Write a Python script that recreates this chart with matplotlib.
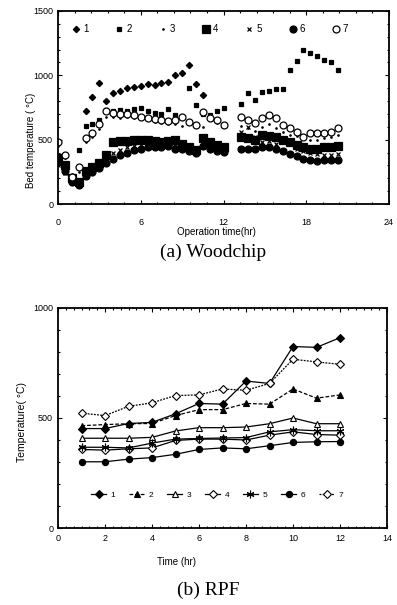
import numpy as np
import matplotlib
matplotlib.use("Agg")
import matplotlib.pyplot as plt
from matplotlib.ticker import MultipleLocator, AutoMinorLocator

plt.rcParams['font.family'] = ['Liberation Sans', 'DejaVu Sans']

nan = np.nan

# (a) woodchip - two runs of readings (hr)
t_a = [0, 0.5, 1, 1.5, 2, 2.5, 3, 3.5, 4, 4.5, 5, 5.5, 6, 6.5, 7, 7.5, 8,
       8.5, 9, 9.5, 10, 10.5, 11, 11.5, 12]
t_b = [13.3, 13.8, 14.3, 14.8, 15.3, 15.8, 16.3, 16.8, 17.3, 17.8, 18.3,
       18.8, 19.3, 19.8, 20.3]

s1_a = [nan, nan, nan, nan, 720, 830, 940, 800, 860, 880, 900, 910, 920, 930,
        925, 940, 950, 1000, 1020, 1080, 930, 850, nan, nan, nan]
s1_b = [nan] * 15
s2_a = [nan, nan, nan, 420, 610, 620, 650, 730, 720, 730, 720, 740, 745, 720,
        710, 700, 740, 690, 680, 900, 770, 700, 690, 720, 750]
s2_b = [780, 860, 810, 870, 880, 890, 890, 1040, 1110, 1200, 1170, 1150, 1120,
        1100, 1045]
s3_a = [450, 360, 230, 250, 480, 520, 580, 680, 680, 670, 680, 670, 660, 660,
        640, 630, 620, 620, 610, 640, 620, 600, 670, 630, 600]
s3_b = [610, 590, 570, 600, 620, 590, 560, 540, 530, 510, 500, 500, 510, 520,
        540]
s4_a = [360, 300, 200, 170, 260, 290, 320, 380, 480, 490, 490, 495, 500, 495,
        490, 480, 490, 500, 470, 445, 420, 510, 480, 460, 440]
s4_b = [520, 510, 500, 540, 530, 520, 500, 480, 460, 440, 430, 430, 440, 445,
        450]
s5_a = [300, 240, 160, 160, 240, 270, 300, 340, 400, 420, 440, 450, 460, 460,
        470, 460, 460, 450, 440, 430, 410, 480, 460, 440, 430]
s5_b = [560, 600, 520, 480, 490, 470, 480, 470, 430, 410, 400, 390, 380, 380,
        390]
s6_a = [330, 260, 170, 150, 220, 250, 280, 320, 350, 380, 400, 420, 430, 440,
        445, 440, 450, 430, 425, 415, 400, 450, 430, 415, 405]
s6_b = [430, 430, 425, 440, 445, 430, 410, 390, 370, 350, 340, 335, 340, 345,
        340]
s7_a = [480, 380, 212, 290, 510, 555, 620, 725, 710, 700, 700, 690, 680, 670,
        660, 650, 645, 650, 680, 640, 614, 717, 666, 653, 614]
s7_b = [678, 653, 627, 666, 692, 666, 614, 588, 562, 523, 549, 549, 549, 560,
        588]

# (b) RPF
hours = [1, 2, 3, 4, 5, 6, 7, 8, 9, 10, 11, 12]
r1 = [452, 452, 475, 480, 519, 566, 563, 668, 657, 825, 821, 865]
r2 = [465, 470, 474, 475, 511, 538, 538, 566, 563, 632, 590, 605]
r3 = [408, 408, 408, 412, 441, 456, 456, 459, 474, 500, 474, 474]
r4 = [357, 354, 360, 364, 398, 404, 404, 400, 422, 437, 425, 422]
r5 = [367, 367, 364, 386, 404, 407, 409, 411, 437, 447, 442, 442]
r6 = [301, 301, 313, 320, 335, 357, 364, 360, 374, 389, 392, 393]
r7 = [522, 511, 553, 569, 602, 605, 632, 626, 657, 767, 755, 744]

fig = plt.figure(figsize=(3.97, 6.05), dpi=100)

# ---- top panel ----
ax1 = fig.add_axes([58/397, 1 - 204/605, 331/397, 193/605])
t_all = t_a + [nan] + t_b
top_styles = [  # (label, a, b, marker, size, filled)
    ('4', s4_a, s4_b, 's', 5.5, True),
    ('6', s6_a, s6_b, 'o', 5, True),
    ('5', s5_a, s5_b, 'x', 3.5, True),
    ('3', s3_a, s3_b, '.', 2, True),
    ('2', s2_a, s2_b, 's', 3.5, True),
    ('1', s1_a, s1_b, 'D', 3.2, True),
    ('7', s7_a, s7_b, 'o', 5, False),
]
handles = {}
for lab, a, b, m, ms, filled in top_styles:
    h, = ax1.plot(t_all, a + [nan] + b, ls='none', marker=m, ms=ms,
                  mfc='black' if filled else 'white', mec='black', mew=0.9,
                  label=lab)
    handles[lab] = h

ax1.set_xlim(0, 24)
ax1.set_ylim(0, 1500)
ax1.xaxis.set_major_locator(MultipleLocator(6))
ax1.xaxis.set_minor_locator(AutoMinorLocator(5))
ax1.yaxis.set_major_locator(MultipleLocator(500))
ax1.yaxis.set_minor_locator(MultipleLocator(100))
ax1.tick_params(which='both', direction='in', top=True, right=True,
                labelsize=6.5, width=0.8)
ax1.tick_params(axis='x', pad=10)
ax1.tick_params(which='major', length=3)
ax1.tick_params(which='minor', length=1.5)
ax1.set_xlabel('Operation time(hr)', fontsize=7)
ax1.xaxis.set_label_coords(0.48, -0.12)
ax1.set_ylabel('Bed temperature ( \u00b0C)', fontsize=7)
ax1.yaxis.set_label_coords(-0.065, 0.33)
for sp in ax1.spines.values():
    sp.set_linewidth(1.3)
ax1.legend([handles[k] for k in '1234567'], list('1234567'), ncol=7,
           loc='center', bbox_to_anchor=(0.46, 0.905), frameon=False,
           fontsize=7, numpoints=1, handlelength=0.8, handletextpad=0.3,
           columnspacing=2.8, borderpad=0)

fig.text(213/397, 1 - 252/605, '(a) Woodchip', ha='center', va='center',
         family='Liberation Serif', fontsize=14)

# ---- bottom panel ----
ax2 = fig.add_axes([58/397, 1 - 528/605, 329/397, 220/605])
asterisk = (6, 2, 0)
bottom_styles = [
    ('1', r1, 'D', 3.8, 'black', '-'),
    ('2', r2, '^', 4.5, 'black', (0, (3, 1.5))),
    ('3', r3, '^', 4.5, 'white', '-'),
    ('4', r4, 'D', 3.8, 'white', '-'),
    ('5', r5, asterisk, 5.5, 'black', '-'),
    ('6', r6, 'o', 4.5, 'black', '-'),
    ('7', r7, 'D', 3.8, 'white', (0, (1.5, 1))),
]
for lab, vals, m, ms, fc, ls in bottom_styles:
    ax2.plot(hours, vals, ls=ls, lw=0.9, color='black', marker=m, ms=ms,
             mfc=fc, mec='black', mew=0.8, label=lab)

ax2.set_xlim(0, 14)
ax2.set_ylim(0, 1000)
ax2.xaxis.set_major_locator(MultipleLocator(2))
ax2.xaxis.set_minor_locator(AutoMinorLocator(6))
ax2.yaxis.set_major_locator(MultipleLocator(500))
ax2.yaxis.set_minor_locator(MultipleLocator(100))
ax2.tick_params(which='both', direction='in', top=True, right=True,
                labelsize=6.5, width=0.8)
ax2.tick_params(axis='x', pad=4)
ax2.tick_params(which='major', length=3)
ax2.tick_params(which='minor', length=1.5)
ax2.set_xlabel('Time (hr)', fontsize=7)
ax2.xaxis.set_label_coords(0.36, -0.13)
ax2.set_ylabel('Temperature( \u00b0C)', fontsize=7.5)
ax2.yaxis.set_label_coords(-0.095, 0.48)
for sp in ax2.spines.values():
    sp.set_linewidth(1.3)
ax2.legend(ncol=7, loc='center', bbox_to_anchor=(0.483, 0.15),
           frameon=False, fontsize=6, numpoints=1, handlelength=1.9,
           handletextpad=0.5, columnspacing=1.6, borderpad=0)

fig.text(208/397, 1 - 590/605, '(b) RPF', ha='center', va='center',
         family='Liberation Serif', fontsize=14)

fig.savefig('out.png', dpi=100)
